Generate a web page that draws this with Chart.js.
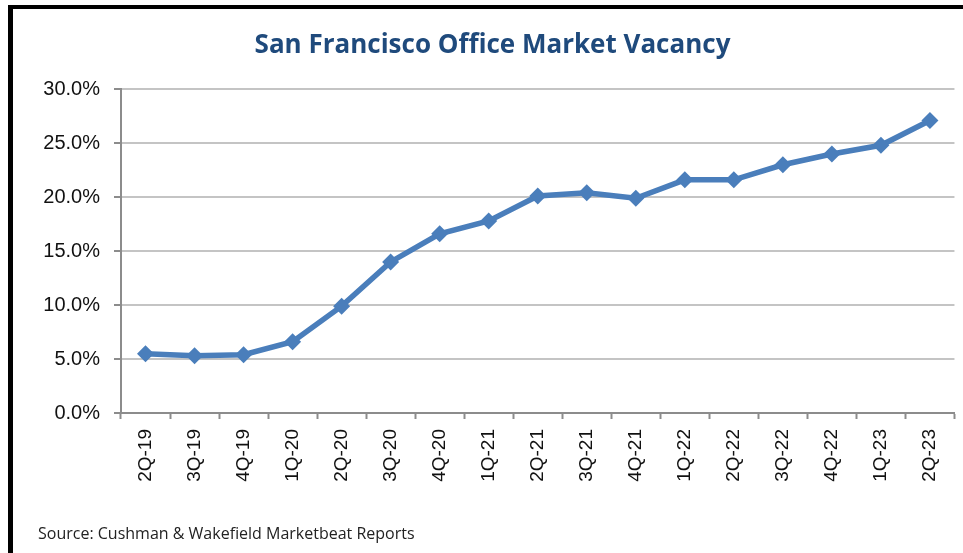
<!DOCTYPE html>
<html>
<head>
<meta charset="utf-8">
<script src="https://cdn.jsdelivr.net/npm/chart.js@4"></script>
<style>
  html, body { margin: 0; padding: 0; background: #fff; }
  #wrap { position: relative; width: 963px; height: 553px; overflow: hidden; }
  #frame {
    position: absolute; left: 8px; top: 5px; right: -10px; bottom: -10px;
    border-left: 5px solid #000; border-top: 4px solid #000;
  }
  #box { position: absolute; left: 0; top: 0; width: 963px; height: 553px; }
  #source {
    position: absolute; left: 38px; top: 522px;
    font-family: "Open Sans", sans-serif; font-size: 16px; color: #222;
  }
</style>
</head>
<body>
<div id="wrap">
  <div id="frame"></div>
  <div id="box"><canvas id="vacancyChart"></canvas></div>
  <div id="source">Source: Cushman &amp; Wakefield Marketbeat Reports</div>
</div>
<script>
const quarters = ["2Q-19", "3Q-19", "4Q-19", "1Q-20", "2Q-20", "3Q-20", "4Q-20", "1Q-21", "2Q-21",
                  "3Q-21", "4Q-21", "1Q-22", "2Q-22", "3Q-22", "4Q-22", "1Q-23", "2Q-23"];
const vacancy = [5.5, 5.3, 5.4, 6.6, 9.9, 14.0, 16.6, 17.8, 20.1,
                 20.4, 19.9, 21.6, 21.6, 23.0, 24.0, 24.8, 27.1];
const yTicks = [0, 5, 10, 15, 20, 25, 30];

const lineBlue = "#4a7ebb";
const axisGray = "#8c8c8c";

const ctx = document.getElementById("vacancyChart").getContext("2d");
new Chart(ctx, {
    type: "line",
    data: {
        labels: quarters,
        datasets: [{
            label: "Vacancy",
            data: vacancy,
            borderColor: lineBlue,
            backgroundColor: lineBlue,
            borderWidth: 5.5,
            pointStyle: "rectRot",
            pointRadius: 8.5,
            pointBorderWidth: 0,
            pointBackgroundColor: lineBlue,
            tension: 0
        }]
    },
    options: {
        responsive: true,
        maintainAspectRatio: false,
        animation: false,
        // left padding shifts the title centre to match the original
        layout: { padding: { left: 30, right: 8, top: 0, bottom: 0 } },
        plugins: {
            legend: { display: false },
            tooltip: { enabled: false },
            title: {
                display: true,
                text: "San Francisco Office Market Vacancy",
                color: "#1f4a7c",
                font: { family: "Open Sans", size: 26, weight: "bold", lineHeight: 1.2 },
                padding: { top: 30, bottom: 28 }
            }
        },
        scales: {
            x: {
                offset: true,
                grid: {
                    offset: true,
                    drawOnChartArea: false,
                    drawTicks: true,
                    tickLength: 6,
                    tickColor: axisGray,
                    tickWidth: 2
                },
                border: { color: axisGray, width: 2 },
                ticks: {
                    color: "#111",
                    font: { family: "Liberation Sans", size: 19 },
                    minRotation: 90,
                    maxRotation: 90,
                    padding: 10,
                    autoSkip: false
                },
                afterFit: scale => { scale.height = 140; }
            },
            y: {
                min: 0,
                max: 30,
                afterBuildTicks: scale => { scale.ticks = yTicks.map(v => ({ value: v })); },
                grid: {
                    color: "#c4c4c4",
                    lineWidth: 2,
                    tickLength: 7,
                    tickColor: axisGray,
                    tickWidth: 2
                },
                border: { color: axisGray, width: 2 },
                ticks: {
                    color: "#111",
                    font: { family: "Liberation Sans", size: 20 },
                    padding: 14,
                    callback: v => v.toFixed(1) + "%"
                },
                afterFit: scale => { scale.width = 91; }
            }
        }
    }
});
</script>
</body>
</html>
